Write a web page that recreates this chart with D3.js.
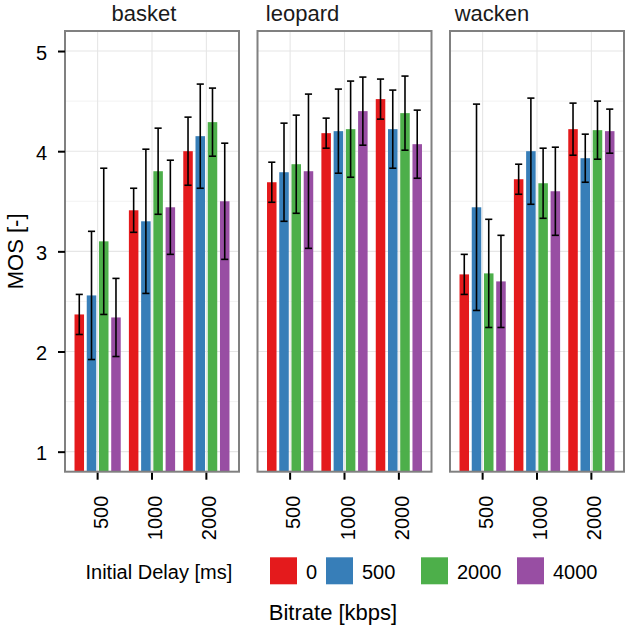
<!DOCTYPE html>
<html>
<head>
    <meta charset="utf-8">
    <script src="https://cdn.jsdelivr.net/npm/d3@7"></script>
    <style>
    body { margin:0; background:#fff; }
    text { font-family: "Liberation Sans", Arial, sans-serif; }
    </style>
</head>
<body>
    <script>
    // categories
    var videos = ["basket", "leopard", "wacken"];
    var bitrates = ["500", "1000", "2000"];
    var delays = ["0", "500", "2000", "4000"];
    var yTicks = [1, 2, 3, 4, 5];

    // mean MOS per bitrate (500, 1000, 2000), 4 delays each
    var basketMos  = [2.37, 2.56, 3.10, 2.34,  3.41, 3.30, 3.80, 3.44,  4.00, 4.15, 4.29, 3.50];
    var basketCi   = [0.20, 0.64, 0.73, 0.39,  0.22, 0.72, 0.43, 0.47,  0.34, 0.52, 0.34, 0.58];
    var leopardMos = [3.69, 3.79, 3.87, 3.80,  4.18, 4.20, 4.22, 4.40,  4.52, 4.22, 4.38, 4.07];
    var leopardCi  = [0.20, 0.49, 0.49, 0.77,  0.15, 0.42, 0.48, 0.34,  0.20, 0.39, 0.37, 0.34];
    var wackenMos  = [2.77, 3.44, 2.78, 2.70,  3.72, 4.00, 3.68, 3.60,  4.22, 3.93, 4.21, 4.20];
    var wackenCi   = [0.20, 1.03, 0.54, 0.46,  0.15, 0.53, 0.35, 0.44,  0.26, 0.24, 0.29, 0.22];

    var mosByVideo = { basket: basketMos, leopard: leopardMos, wacken: wackenMos };
    var ciByVideo = { basket: basketCi, leopard: leopardCi, wacken: wackenCi };

    var colors = ["#E41A1C", "#377EB8", "#4DAF4A", "#984EA3"];

    var width = 625, height = 630;
    // careful: "top" is taken by window.top
    var plotTop = 31, plotBottom = 471.7;
    var left = 65, panelW = 174, gap = 18.5;
    // strip labels do not sit in the panel middle in the original
    var stripX = [79, 45, 42];

    var svg = d3.select("body").append("svg")
        .attr("width", width)
        .attr("height", height);

    // y is shared by all facets (coord limits 1..5 plus 5% expand)
    var y = d3.scaleLinear().domain([0.8, 5.2]).range([plotBottom, plotTop]);

    var x0 = d3.scaleBand().domain(bitrates).range([0, panelW])
        .paddingInner(0).paddingOuter(0.1);
    // dodge width 0.9, bar width 0.7
    var x1 = d3.scaleBand().domain(delays)
        .range([-0.45 * x0.step(), 0.45 * x0.step()]);
    var barW = x1.bandwidth() * 0.7 / 0.9;
    var capW = barW * 0.75;

    videos.forEach(function(video, vi) {
        var px = left + vi * (panelW + gap);
        var g = svg.append("g").attr("transform", "translate(" + px + ",0)");

        // grid
        g.selectAll("line.minor")
            .data([1.5, 2.5, 3.5, 4.5])
            .enter().append("line")
            .attr("x1", 0).attr("x2", panelW)
            .attr("y1", y).attr("y2", y)
            .style("stroke", "#f2f2f2").style("stroke-width", 1);
        g.selectAll("line.major")
            .data(yTicks)
            .enter().append("line")
            .attr("x1", 0).attr("x2", panelW)
            .attr("y1", y).attr("y2", y)
            .style("stroke", "#e6e6e6").style("stroke-width", 1.1);
        g.selectAll("line.vmajor")
            .data(bitrates)
            .enter().append("line")
            .attr("x1", function(d) { return x0(d) + x0.bandwidth() / 2; })
            .attr("x2", function(d) { return x0(d) + x0.bandwidth() / 2; })
            .attr("y1", plotTop).attr("y2", plotBottom)
            .style("stroke", "#e6e6e6").style("stroke-width", 1.1);

        // rows: one per bar
        var rows = [];
        bitrates.forEach(function(b, bi) {
            delays.forEach(function(d, di) {
                var k = bi * delays.length + di;
                rows.push({ bitrate: b, delay: d, di: di,
                    mos: mosByVideo[video][k], ci: ciByVideo[video][k] });
            });
        });
        function cx(r) { return x0(r.bitrate) + x0.bandwidth() / 2 + x1(r.delay) + x1.bandwidth() / 2; }

        g.selectAll("rect.bar")
            .data(rows)
            .enter().append("rect")
            .attr("x", function(r) { return cx(r) - barW / 2; })
            .attr("width", barW)
            .attr("y", function(r) { return y(r.mos); })
            .attr("height", function(r) { return y(0.8) - y(r.mos); })
            .style("fill", function(r) { return colors[r.di]; });

        // error bars
        var eb = g.selectAll("g.err").data(rows).enter().append("g")
            .style("stroke", "#000").style("stroke-width", 1.6);
        eb.append("line")
            .attr("x1", cx).attr("x2", cx)
            .attr("y1", function(r) { return y(r.mos + r.ci); })
            .attr("y2", function(r) { return y(r.mos - r.ci); });
        eb.append("line")
            .attr("x1", function(r) { return cx(r) - capW / 2; })
            .attr("x2", function(r) { return cx(r) + capW / 2; })
            .attr("y1", function(r) { return y(r.mos + r.ci); })
            .attr("y2", function(r) { return y(r.mos + r.ci); });
        eb.append("line")
            .attr("x1", function(r) { return cx(r) - capW / 2; })
            .attr("x2", function(r) { return cx(r) + capW / 2; })
            .attr("y1", function(r) { return y(r.mos - r.ci); })
            .attr("y2", function(r) { return y(r.mos - r.ci); });

        // panel border
        g.append("rect")
            .attr("x", 0).attr("y", plotTop)
            .attr("width", panelW).attr("height", plotBottom - plotTop)
            .style("fill", "none").style("stroke", "#808080").style("stroke-width", 2);

        // strip label
        g.append("text")
            .attr("x", stripX[vi]).attr("y", 20.5)
            .attr("text-anchor", "middle")
            .style("font-size", "22px").style("fill", "#1a1a1a")
            .text(video);

        // x axis
        var xAxis = g.append("g")
            .attr("transform", "translate(0," + (plotBottom + 1) + ")")
            .call(d3.axisBottom(x0).tickSize(7).tickPadding(0));
        xAxis.select(".domain").remove();
        xAxis.selectAll(".tick line").style("stroke", "#000").style("stroke-width", 2);
        xAxis.selectAll(".tick text")
            .attr("transform", "translate(10,23) rotate(-90)")
            .attr("x", 0).attr("y", 0).attr("dy", 0)
            .attr("text-anchor", "end")
            .style("font-size", "20px").style("fill", "#000")
            .style("font-family", "Liberation Sans, Arial, sans-serif");

        if (vi === 0) {
            var yAxis = g.append("g")
                .call(d3.axisLeft(y).tickValues(yTicks).tickFormat(d3.format("d"))
                    .tickSize(7).tickPadding(11));
            yAxis.select(".domain").remove();
            yAxis.selectAll(".tick line").style("stroke", "#000").style("stroke-width", 2);
            yAxis.selectAll(".tick text")
                .attr("dy", "0.4em")
                .style("font-size", "20px").style("fill", "#000")
                .style("font-family", "Liberation Sans, Arial, sans-serif");
        }
    });

    // axis titles
    svg.append("text")
        .attr("transform", "translate(22.5," + ((plotTop + plotBottom) / 2) + ") rotate(-90)")
        .attr("text-anchor", "middle")
        .style("font-size", "22px")
        .text("MOS [-]");
    svg.append("text")
        .attr("x", 333).attr("y", 620)
        .attr("text-anchor", "middle")
        .style("font-size", "22px")
        .text("Bitrate [kbps]");

    // legend
    var legendX = [270, 326, 421, 517];
    var legend = svg.append("g");
    legend.append("text")
        .attr("x", 85.5).attr("y", 579.3)
        .style("font-size", "20px")
        .text("Initial Delay [ms]");
    var items = legend.selectAll("g.item").data(delays).enter().append("g")
        .attr("transform", function(d, i) { return "translate(" + legendX[i] + ",557.3)"; });
    items.append("rect")
        .attr("width", 27).attr("height", 27)
        .style("fill", function(d, i) { return colors[i]; });
    items.append("text")
        .attr("x", 36).attr("y", 22)
        .style("font-size", "20px")
        .text(function(d) { return d; });
    </script>
</body>
</html>
